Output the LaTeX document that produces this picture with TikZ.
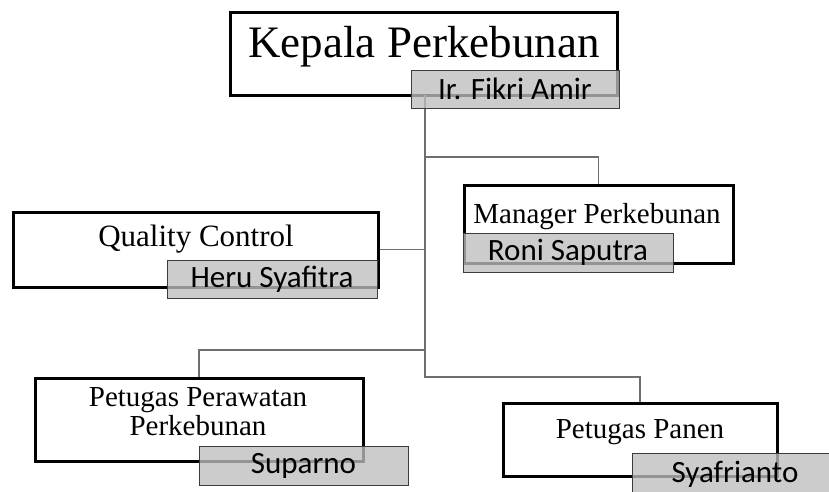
\documentclass[tikz,border=0pt]{standalone}
\usepackage{fontspec}
\setmainfont{Liberation Serif}
\newfontfamily\namefont{Carlito}
\begin{document}
\begin{tikzpicture}[x=1pt,y=-1pt,
  mainbox/.style={draw=black,line width=3pt,fill=white,inner sep=0pt},
  namebox/.style={draw={rgb,255:red,60;green,60;blue,60},line width=1pt,
    fill={rgb,255:red,190;green,190;blue,190},fill opacity=0.78,text opacity=1,
    inner sep=0pt,font=\namefont\fontsize{31}{34}\selectfont},
  title/.style={inner sep=0pt,align=center,font=\fontsize{29}{29}\selectfont},
  conn/.style={draw={rgb,255:red,110;green,110;blue,110},line width=1.6pt}]
\useasboundingbox (0,0) rectangle (829,491);
\clip (0,0) rectangle (829,491);
% main boxes
\node[mainbox,minimum width=387pt,minimum height=83pt] (kepala) at (423.5,53.5) {};
\node[mainbox,minimum width=365pt,minimum height=75pt] (qc) at (195.5,249.5) {};
\node[mainbox,minimum width=269pt,minimum height=78pt] (manager) at (598.5,224) {};
\node[mainbox,minimum width=328pt,minimum height=83pt] (perawatan) at (199,419.5) {};
\node[mainbox,minimum width=274pt,minimum height=73pt] (panen) at (640,439.5) {};
% titles
\node[title,font=\fontsize{45}{45}\selectfont] (tkepala) at (424,47) {Kepala Perkebunan};
\node[title,font=\fontsize{31}{31}\selectfont] (tqc) at (196,239) {Quality Control};
\node[title] (tmanager) at (597,217) {Manager Perkebunan};
\node[title,font=\fontsize{29}{29}\selectfont] (tperawatan) at (198,412) {Petugas Perawatan\\[0pt]Perkebunan};
\node[title] (tpanen) at (640,432) {Petugas Panen};
% connectors
\coordinate (t0) at (425,95);
\coordinate (t1) at (425,377);
\coordinate (b1) at (425,157);
\coordinate (b3) at (425,350);
\draw[conn] (t0) -- (t1) -| (panen.north);
\draw[conn] (b1) -| (manager.north);
\draw[conn] (qc.east) -- (qc.east -| t0);
\draw[conn] (b3) -| (perawatan.north);
% name boxes
\node[namebox,minimum width=208pt,minimum height=38pt] (nkepala) at (515,89) {Ir. Fikri Amir};
\node[namebox,minimum width=210pt,minimum height=38pt] (nqc) at (272,279) {Heru Syafitra};
\node[namebox,minimum width=210pt,minimum height=39pt] (nmanager) at (568,252.5) {Roni Saputra};
\node[namebox,minimum width=209pt,minimum height=39pt] (nperawatan) at (303.5,465.5) {Suparno};
\node[namebox,minimum width=206pt,minimum height=42pt] (npanen) at (735,474) {Syafrianto};
\end{tikzpicture}
\end{document}
